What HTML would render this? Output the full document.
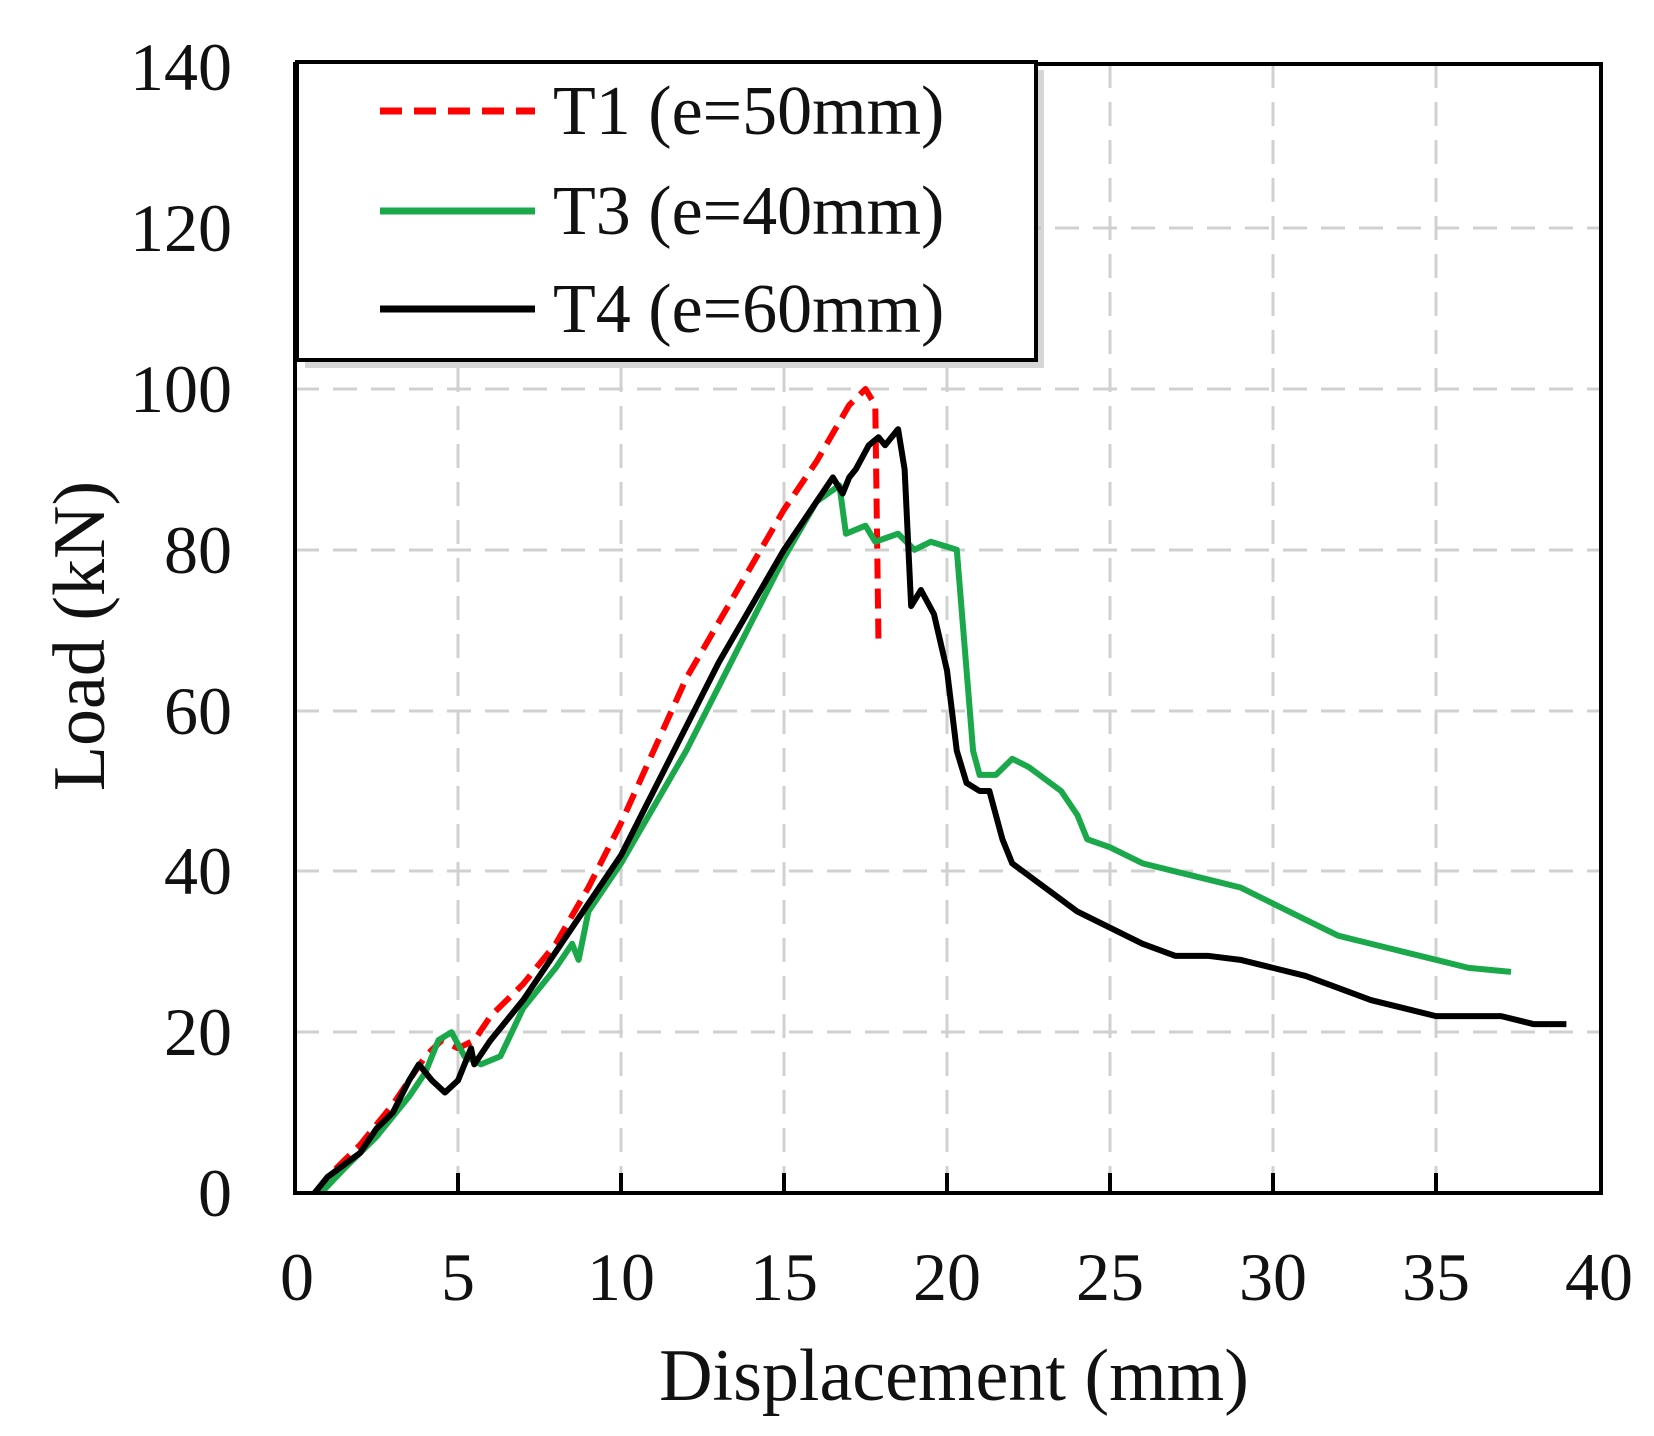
<!DOCTYPE html>
<html><head><style>body{margin:0;background:#fff}svg{display:block}</style></head><body>
<svg width="1654" height="1436" viewBox="0 0 1654 1436" xmlns="http://www.w3.org/2000/svg" font-family="Liberation Serif, serif">
<g stroke="#d0d0d0" stroke-width="3" stroke-dasharray="24,14">
<line x1="458" y1="64" x2="458" y2="1193"/><line x1="621" y1="64" x2="621" y2="1193"/><line x1="784" y1="64" x2="784" y2="1193"/><line x1="947" y1="64" x2="947" y2="1193"/><line x1="1110" y1="64" x2="1110" y2="1193"/><line x1="1273" y1="64" x2="1273" y2="1193"/><line x1="1436" y1="64" x2="1436" y2="1193"/>
<line x1="295" y1="1032" x2="1601" y2="1032"/><line x1="295" y1="871" x2="1601" y2="871"/><line x1="295" y1="711" x2="1601" y2="711"/><line x1="295" y1="550" x2="1601" y2="550"/><line x1="295" y1="389" x2="1601" y2="389"/><line x1="295" y1="228" x2="1601" y2="228"/>
</g>
<g fill="none" stroke-linejoin="round" transform="translate(295,1193) scale(32.6,-8.04)">
<polyline vector-effect="non-scaling-stroke" stroke="#ff0000" stroke-width="6" stroke-dasharray="20,10" points="0.7,0 1,2 2,6 3,11 4,17 4.5,19 5,18 5.5,19 6,22 7,26 8,31 9,38 10,46 11,55 12,64 13,71 14,78 15,85 16,91 17,98 17.5,100 17.8,98 17.9,68"/>
<polyline vector-effect="non-scaling-stroke" stroke="#1aa84a" stroke-width="6" points="0.8,0 1.5,3 2.5,7 3.5,12 4,15 4.4,19 4.8,20 5.2,17 5.7,16 6.3,17 7,23 8,28 8.5,31 8.7,29 9,35 10,41 11,48 12,55 13,63 14,71 15,79 16,86 16.7,88 16.9,82 17.5,83 17.8,81 18.5,82 19,80 19.5,81 20.3,80 20.6,65 20.8,55 21,52 21.5,52 22,54 22.5,53 23.5,50 24,47 24.3,44 25,43 26,41 27,40 28,39 29,38 30,36 31,34 32,32 33,31 34,30 35,29 36,28 37.3,27.5"/>
<polyline vector-effect="non-scaling-stroke" stroke="#000" stroke-width="6" points="0.6,0 1,2 2,5 2.5,8 3,10 3.5,14 3.8,16 4.2,14 4.6,12.5 5,14 5.4,18 5.5,16 6,19 7,24 8,30 9,36 10,42 11,50 12,58 13,66 14,73 15,80 16,86 16.5,89 16.8,87 17,89 17.2,90 17.6,93 17.9,94 18.1,93 18.5,95 18.7,90 18.9,73 19.2,75 19.6,72 20,65 20.3,55 20.6,51 21,50 21.3,50 21.7,44 22,41 23,38 24,35 25,33 26,31 27,29.5 28,29.5 29,29 30,28 31,27 32,25.5 33,24 34,23 35,22 36,22 37,22 38,21 39,21"/>
</g>
<rect x="295" y="64" width="1306" height="1129" fill="none" stroke="#000" stroke-width="4"/>
<g stroke="#000" stroke-width="4">
<line x1="458" y1="1193" x2="458" y2="1173"/><line x1="621" y1="1193" x2="621" y2="1173"/><line x1="784" y1="1193" x2="784" y2="1173"/><line x1="947" y1="1193" x2="947" y2="1173"/><line x1="1110" y1="1193" x2="1110" y2="1173"/><line x1="1273" y1="1193" x2="1273" y2="1173"/><line x1="1436" y1="1193" x2="1436" y2="1173"/>
</g>
<rect x="305" y="70" width="739" height="298" fill="#bbb" opacity="0.6"/>
<rect x="297" y="62" width="739" height="298" fill="#fff" stroke="#000" stroke-width="4"/>
<g font-size="70" fill="#111">
<line x1="380" y1="111" x2="535" y2="111" stroke="#ff0000" stroke-width="7" stroke-dasharray="22,12"/>
<text x="553" y="134">T1 (e=50mm)</text>
<line x1="380" y1="211" x2="535" y2="211" stroke="#1aa84a" stroke-width="7"/>
<text x="553" y="234">T3 (e=40mm)</text>
<line x1="380" y1="309" x2="535" y2="309" stroke="#000" stroke-width="7"/>
<text x="553" y="332">T4 (e=60mm)</text>
</g>
<g font-size="68" fill="#111" text-anchor="end">
<text x="232" y="1216">0</text><text x="232" y="1055">20</text><text x="232" y="894">40</text><text x="232" y="734">60</text><text x="232" y="573">80</text><text x="232" y="412">100</text><text x="232" y="251">120</text><text x="232" y="90">140</text>
</g>
<g font-size="68" fill="#111" text-anchor="middle">
<text x="297" y="1300">0</text><text x="458" y="1300">5</text><text x="621" y="1300">10</text><text x="784" y="1300">15</text><text x="947" y="1300">20</text><text x="1110" y="1300">25</text><text x="1273" y="1300">30</text><text x="1436" y="1300">35</text><text x="1599" y="1300">40</text>
</g>
<text x="954" y="1400" font-size="74" text-anchor="middle" fill="#111">Displacement (mm)</text>
<text transform="translate(104,636) rotate(-90)" font-size="74" text-anchor="middle" fill="#111">Load (kN)</text>
</svg>
</body></html>
